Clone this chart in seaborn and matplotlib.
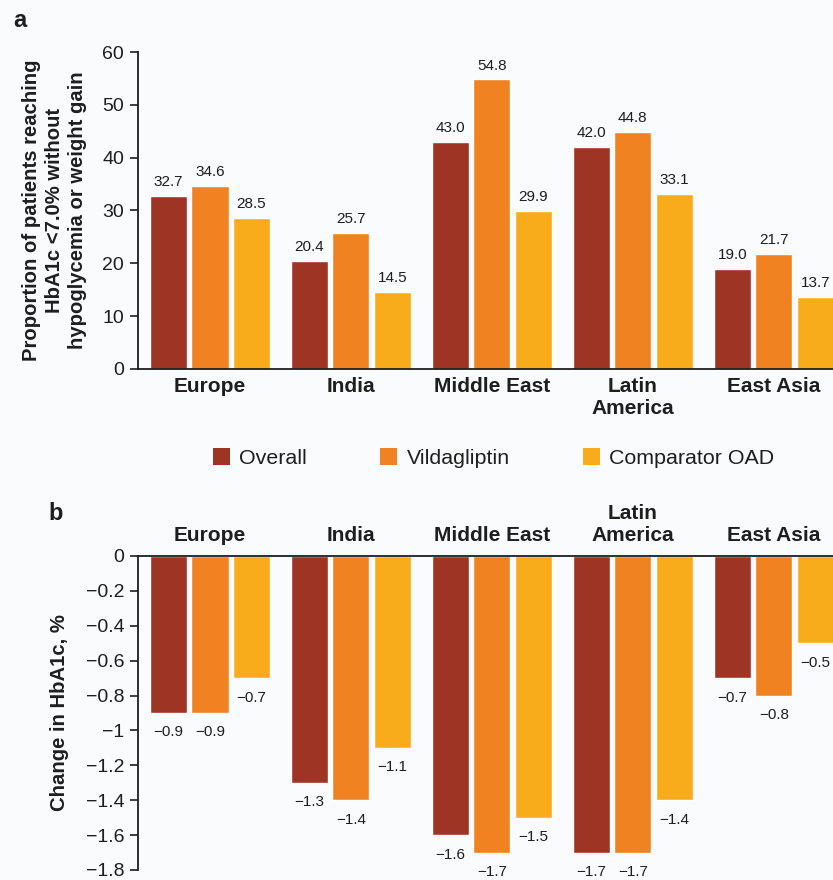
import pandas as pd
import numpy as np
import matplotlib
matplotlib.use('Agg')
import matplotlib.pyplot as plt
from matplotlib.patches import Patch
import seaborn as sns

regions = ['Europe', 'India', 'Middle East', 'Latin\nAmerica', 'East Asia']
groups = ['Overall', 'Vildagliptin', 'Comparator OAD']
colors = ['#9e3524', '#f08222', '#f8ac1c']

# panel a: proportion reaching HbA1c <7.0% without hypoglycemia or weight gain
overall_a = [32.7, 20.4, 43.0, 42.0, 19.0]
vilda_a = [34.6, 25.7, 54.8, 44.8, 21.7]
comp_a = [28.5, 14.5, 29.9, 33.1, 13.7]

# panel b: change in HbA1c, %
overall_b = [-0.9, -1.3, -1.6, -1.7, -0.7]
vilda_b = [-0.9, -1.4, -1.7, -1.7, -0.8]
comp_b = [-0.7, -1.1, -1.5, -1.4, -0.5]

bg = '#fafbfc'
txt = '#1e1e1e'

sns.set_style('white')
plt.rcParams['font.family'] = ['Liberation Sans', 'DejaVu Sans']
plt.rcParams['text.color'] = txt
plt.rcParams['axes.labelcolor'] = txt
plt.rcParams['xtick.color'] = txt
plt.rcParams['ytick.color'] = txt


def long_df(a, b, c):
    rows = []
    for g, vals in zip(groups, [a, b, c]):
        for r, v in zip(regions, vals):
            rows.append({'region': r, 'group': g, 'value': v})
    return pd.DataFrame(rows)


def minus(v, fmt='{:.1f}'):
    return fmt.format(v).replace('-', '\u2212')


fig = plt.figure(figsize=(8.33, 8.8), dpi=100, facecolor=bg)
ax1 = fig.add_axes([0.1657, 0.5807, 0.8343, 0.3602], facecolor=bg)
ax2 = fig.add_axes([0.1657, 0.0114, 0.8343, 0.3568], facecolor=bg)

for ax, df in [(ax1, long_df(overall_a, vilda_a, comp_a)),
               (ax2, long_df(overall_b, vilda_b, comp_b))]:
    sns.barplot(data=df, x='region', y='value', hue='group', hue_order=groups,
                palette=colors, width=0.88, gap=0.1, errorbar=None,
                saturation=1, ax=ax, legend=False)
    ax.set_xlim(-0.51, 4.42)
    ax.set_xlabel('')
    ax.tick_params(axis='y', length=6, width=1.2, labelsize=14, pad=4, left=True)
    for s in ['left', 'bottom', 'top']:
        ax.spines[s].set_linewidth(1.3)
        ax.spines[s].set_color(txt)
    ax.spines['right'].set_visible(False)

# panel a
ax1.set_ylim(0, 60)
ax1.set_yticks(np.arange(0, 61, 10))
ax1.spines['top'].set_visible(False)
ax1.tick_params(axis='x', length=0, labelsize=15, pad=6)
ax1.set_xticks(range(len(regions)))
ax1.set_xticklabels(regions, fontweight='bold')
ax1.set_ylabel('Proportion of patients reaching\nHbA1c <7.0% without\nhypoglycemia or weight gain',
               fontsize=14.6, fontweight='bold', labelpad=11, linespacing=1.27)
for cont in ax1.containers:
    ax1.bar_label(cont, labels=[minus(b.get_height()) for b in cont],
                  padding=5, fontsize=11, color=txt)

# panel b
ax2.set_ylim(-1.8, 0)
yt = np.round(np.arange(-1.8, 0.01, 0.2), 1)
ax2.set_yticks(yt)
ax2.set_yticklabels([minus(v, '{:g}') if v != 0 else '0' for v in yt])
ax2.spines['bottom'].set_visible(False)
ax2.xaxis.tick_top()
ax2.tick_params(axis='x', length=0, labelsize=15, pad=8)
ax2.set_xticks(range(len(regions)))
ax2.set_xticklabels(regions, fontweight='bold')
ax2.set_ylabel('Change in HbA1c, %', fontsize=14.6, fontweight='bold', labelpad=12)
for cont in ax2.containers:
    ax2.bar_label(cont, labels=[minus(b.get_height()) for b in cont],
                  padding=9, fontsize=11, color=txt)

handles = [Patch(facecolor=c, edgecolor='none') for c in colors]
fig.legend(handles, groups, loc='center', bbox_to_anchor=(0.5925, 0.4795), ncol=3,
           frameon=False, fontsize=15.4, handlelength=0.8, handleheight=0.8,
           handletextpad=0.45, columnspacing=3.4)

fig.text(0.016, 0.99, 'a', fontsize=17, fontweight='bold', va='top')
fig.text(0.058, 0.409, 'b', fontsize=17, fontweight='bold', va='baseline')

fig.savefig('out.png', dpi=100, facecolor=bg)
